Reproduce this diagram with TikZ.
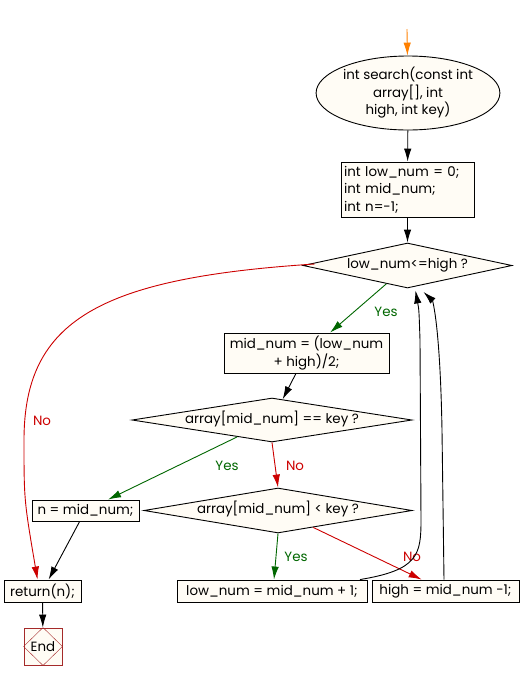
\documentclass[tikz,border=0pt]{standalone}
\usepackage{fontspec}
\setmainfont{Poppins}
\usetikzlibrary{shapes.geometric,arrows.meta}
\definecolor{cream}{RGB}{255,252,245}
\definecolor{noline}{RGB}{204,0,0}
\definecolor{yesline}{RGB}{0,102,0}
\definecolor{endred}{RGB}{165,42,42}
\tikzset{
  box/.style={draw,fill=cream,rectangle,inner sep=0pt},
  dia/.style={draw,fill=cream,diamond,aspect=6,inner sep=0pt,text height=8pt,text depth=2pt},
  oval/.style={draw,fill=cream,ellipse,inner sep=0pt,align=center},
  flow/.style={-{Latex[length=13pt,width=7.5pt]}},
  yes/.style={flow,yesline},
  no/.style={flow,noline}
}
\begin{document}
\begin{tikzpicture}[x=1pt,y=-1pt,line width=0.9pt,font=\fontsize{13.4}{17.5}\selectfont]
        \useasboundingbox (0,0) rectangle (521,681);
        % shapes
        \node[oval,minimum width=170,minimum height=74] (fn) at (408,93)
          {int search(const int\\array[], int\\high, int key)};
        \node[box,text width=127,inner xsep=3pt,minimum height=55,align=left] (init) at (407.5,189.5)
          {int low\_num = 0;\\int mid\_num;\\int n=-1;};
        \node[dia,minimum width=209,minimum height=45] (d1) at (407.5,265.5) {low\_num<=high ?};
        \node[box,minimum width=165,minimum height=40,align=center] (mid) at (306.5,353)
          {mid\_num = (low\_num\\+ high)/2;};
        \node[dia,minimum width=280,minimum height=44] (d2) at (272,420) {array[mid\_num] == key ?};
        \node[box,minimum width=107,minimum height=21] (nbox) at (85.5,510.5) {n = mid\_num;};
        \node[dia,minimum width=268,minimum height=45] (d3) at (278,510.5) {array[mid\_num] < key ?};
        \node[box,minimum width=77,minimum height=22] (ret) at (42.5,591) {return(n);};
        \node[box,minimum width=190,minimum height=22] (low) at (272,591) {low\_num = mid\_num + 1;};
        \node[box,minimum width=147,minimum height=22] (high) at (445.5,591) {high = mid\_num -1;};
        \node[box,draw=endred,minimum width=38,minimum height=37] (endn) at (43,646.5) {End};
        \draw[endred,thin] (endn.north) -- (endn.east) -- (endn.south) -- (endn.west) -- cycle;
        % connectors
        \coordinate (top) at (407,29);
        \draw[flow,orange] (top) -- (fn);
        \draw[flow] (fn) -- (init);
        \draw[flow] (init) -- (d1);
        \draw[yes] (d1) -- (mid) node (yes1) at (386,312) {Yes};
        \draw[flow] (mid) -- (d2);
        \draw[yes] (d2) -- (nbox) node (yes2) at (227,466) {Yes};
        \draw[no] (d2.south) -- (d3.north) node (no2) at (295,466) {No};
        \draw[flow] (nbox) -- (ret);
        \draw[yes] (d3.south) -- ([xshift=2pt]low.north) node (yes3) at (296,557) {Yes};
        \draw[no] (d3) -- (high) node (no3) at (412,557) {No};
        \draw[no] ([xshift=12pt,yshift=1.5pt]d1.west) .. controls (100,278) and (24,320) .. (24,440)
          .. controls (24,500) .. ([xshift=-5pt]ret.north) node (no1) at (42,421) {No};
        \draw[flow] (ret) -- (endn);
        % loops back
        \draw[flow] ([xshift=88pt]low.north) .. controls (418,570) and (421,555) .. (421,520)
          -- (420,340) .. controls (419,310) .. ([xshift=8pt,yshift=-2pt]d1.south);
        \draw[flow] ([xshift=-1.5pt]high.north) -- (442,430) .. controls (440,320) and (432,300)
          .. ([xshift=16pt,yshift=-3.5pt]d1.south);
      \end{tikzpicture}
\end{document}
